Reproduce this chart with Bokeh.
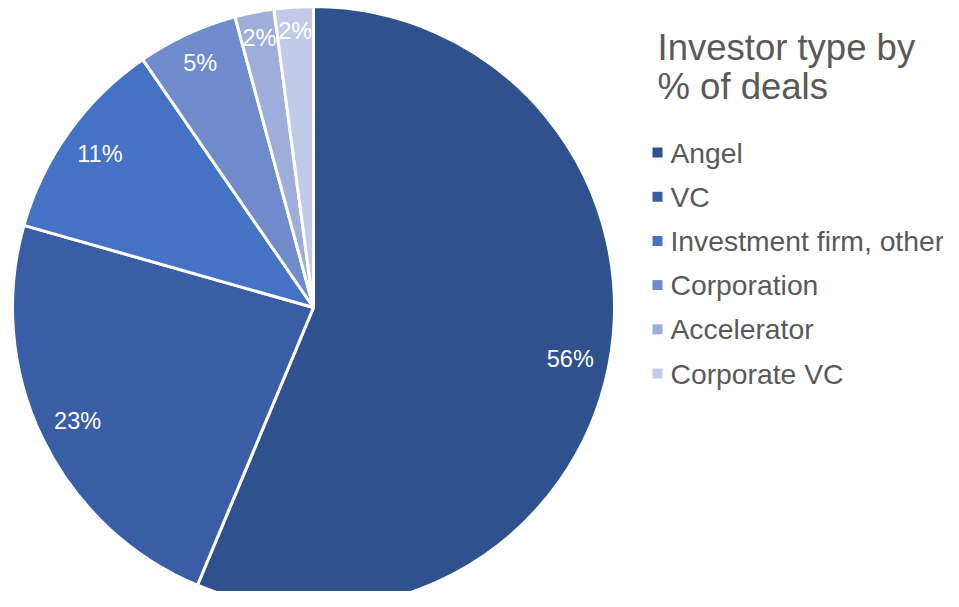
import math
from bokeh.plotting import figure
from bokeh.models import Range1d, ColumnDataSource
from bokeh.core.properties import value
from bokeh.embed import file_html
from bokeh.resources import INLINE

# ---- data ----
categories = ["Angel", "VC", "Investment firm, other", "Corporation", "Accelerator", "Corporate VC"]
shares = [56.3, 23.1, 11.0, 5.4, 2.1, 2.1]
colors = ["#2F528F", "#3A5EA6", "#4472C4", "#6F8BCB", "#9DAEDA", "#C1CAE7"]
title_lines = ["Investor type by", "% of deals"]

W, H = 943, 591
FONT = value("Liberation Sans")
TXT = "#595959"

def sx(x):
    return x

def sy(y):
    return H - y

p = figure(width=W, height=H, output_backend="svg", toolbar_location=None,
           x_range=Range1d(0, W), y_range=Range1d(0, H), min_border=0)
p.axis.visible = False
p.grid.visible = False
p.outline_line_color = None
p.background_fill_color = "white"

cx, cy, R = sx(313), sy(307), 301
total = sum(shares)
starts, ends, mids = [], [], []
cum = 0.0
for v in shares:
    a0 = math.pi / 2 - 2 * math.pi * cum / total
    cum += v
    a1 = math.pi / 2 - 2 * math.pi * cum / total
    starts.append(a0)
    ends.append(a1)
    mids.append((a0 + a1) / 2)

src = ColumnDataSource(dict(start=starts, end=ends, color=colors))
p.wedge(x=cx, y=cy, radius=R, start_angle="start", end_angle="end", direction="clock",
        fill_color="color", line_color="white", line_width=3, source=src)

# data labels (inside end)
lx, ly, lt = [], [], []
for m, v in zip(mids, shares):
    c, s = math.cos(m), math.sin(m)
    off = 14 + 24 * abs(c) + 8 * abs(s)
    r = R - off
    lx.append(cx + r * c)
    ly.append(cy + r * s)
    lt.append(f"{round(v)}%")
p.text(x=lx, y=ly, text=lt, text_align="center", text_baseline="middle",
       text_color="white", text_font=FONT, text_font_size="23.5px")

# title
for i, t in enumerate(title_lines):
    p.text(x=[sx(657)], y=[sy(47 + 39 * i)], text=[t], text_align="left",
           text_baseline="alphabetic", text_color=TXT, text_font=FONT, text_font_size="36.5px")

# legend
ys = [sy(152 + 44.2 * i) for i in range(len(categories))]
p.rect(x=[sx(657)] * len(categories), y=ys, width=10, height=10,
       fill_color=colors, line_color=None)
p.text(x=[sx(670)] * len(categories), y=ys, text=categories, text_align="left",
       text_baseline="middle", text_color=TXT, text_font=FONT, text_font_size="28.3px")

open("out.html", "w").write(file_html(p, INLINE))
